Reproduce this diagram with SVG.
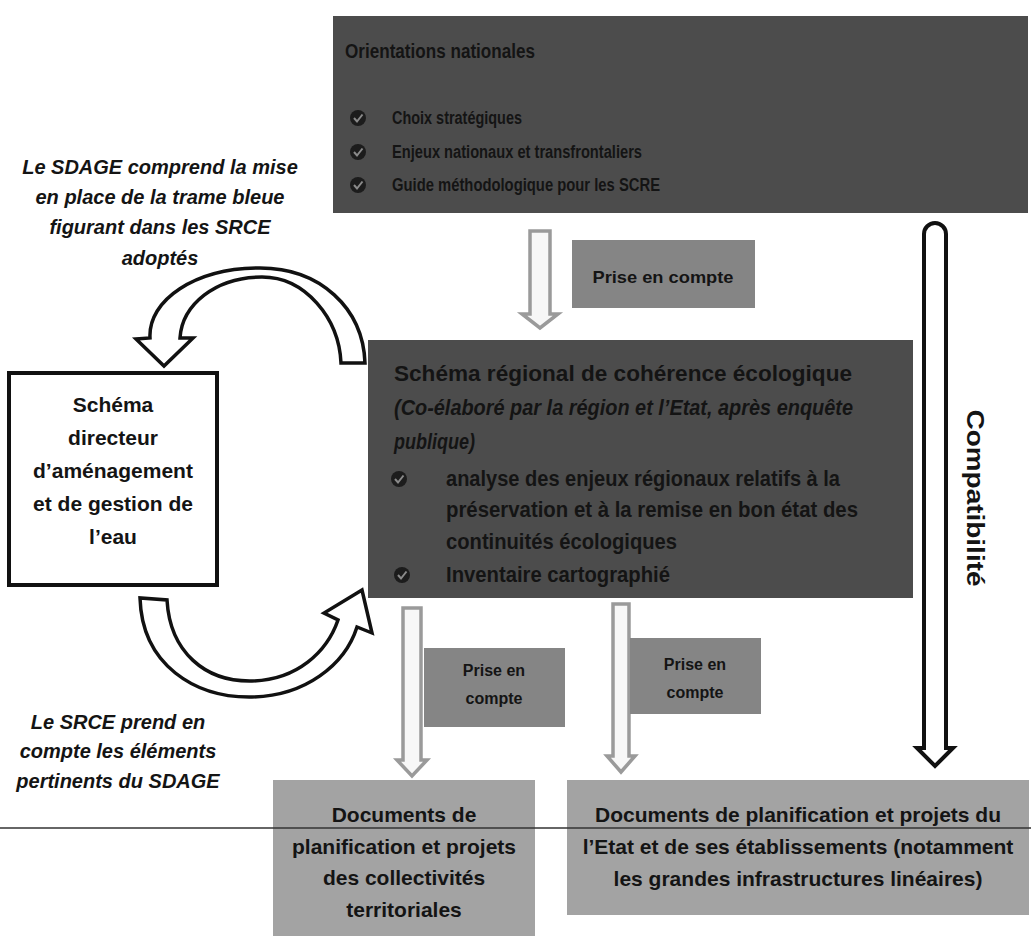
<svg xmlns="http://www.w3.org/2000/svg" width="1031" height="936" viewBox="0 0 1031 936">
<defs>
<style>
.t{font-family:"Liberation Sans",Arial,sans-serif;font-weight:bold;fill:#141414}
.it{font-style:italic}
.dark{fill:#4c4c4c}
.mid{fill:#858585}
.light{fill:#a3a3a3}
.curve{fill:#fff;stroke:#111;stroke-width:3.5;stroke-linejoin:miter}
.grey{fill:#f7f7f7;stroke:#9a9a9a;stroke-width:3.5;stroke-linejoin:miter}
.bk{fill:#fff;stroke:#111;stroke-width:4;stroke-linejoin:miter}
</style>
<g id="bullet">
<circle r="8" fill="#1c1c1c"/>
<path d="M-4 0 L-1 3.5 L4.5 -3.5" fill="none" stroke="#8a8a8a" stroke-width="2"/>
</g>
</defs>
<rect width="1031" height="936" fill="#fff"/>

<g id="orientations">
<rect class="dark" x="333" y="16" width="695" height="197"/>
<text class="t" x="345" y="58" font-size="20" textLength="190" lengthAdjust="spacingAndGlyphs">Orientations nationales</text>
<use href="#bullet" x="358" y="118"/>
<use href="#bullet" x="358" y="152"/>
<use href="#bullet" x="358" y="185"/>
<text class="t" x="392" y="124" font-size="18" textLength="130" lengthAdjust="spacingAndGlyphs">Choix stratégiques</text>
<text class="t" x="392" y="158" font-size="18" textLength="250" lengthAdjust="spacingAndGlyphs">Enjeux nationaux et transfrontaliers</text>
<text class="t" x="392" y="191" font-size="18" textLength="268" lengthAdjust="spacingAndGlyphs">Guide méthodologique pour les SCRE</text>
</g>

<g id="srce">
<rect class="dark" x="368" y="340" width="545" height="258"/>
<text class="t" x="394" y="381" font-size="22" textLength="458" lengthAdjust="spacingAndGlyphs">Schéma régional de cohérence écologique</text>
<text class="t it" x="394" y="415" font-size="22" textLength="459" lengthAdjust="spacingAndGlyphs">(Co-élaboré par la région et l’Etat, après enquête</text>
<text class="t it" x="394" y="449" font-size="22" textLength="81" lengthAdjust="spacingAndGlyphs">publique)</text>
<use href="#bullet" x="399" y="479"/>
<text class="t" x="446" y="486" font-size="22" textLength="394" lengthAdjust="spacingAndGlyphs">analyse des enjeux régionaux relatifs à la</text>
<text class="t" x="446" y="517" font-size="22" textLength="412" lengthAdjust="spacingAndGlyphs">préservation et à la remise en bon état des</text>
<text class="t" x="446" y="549" font-size="22" textLength="231" lengthAdjust="spacingAndGlyphs">continuités écologiques</text>
<use href="#bullet" x="402" y="575"/>
<text class="t" x="446" y="582" font-size="22" textLength="224" lengthAdjust="spacingAndGlyphs">Inventaire cartographié</text>
</g>

<g id="sdage">
<rect x="9" y="373" width="208" height="212" fill="#fff" stroke="#111" stroke-width="4"/>
<text class="t" x="113" y="412" font-size="21" text-anchor="middle">Schéma</text>
<text class="t" x="113" y="445" font-size="21" text-anchor="middle">directeur</text>
<text class="t" x="113" y="478" font-size="21" text-anchor="middle">d’aménagement</text>
<text class="t" x="113" y="511" font-size="21" text-anchor="middle">et de gestion de</text>
<text class="t" x="113" y="544" font-size="21" text-anchor="middle">l’eau</text>
</g>

<g id="collectivites">
<rect class="light" x="273" y="780" width="262" height="156"/>
<text class="t" x="404" y="822" font-size="21" text-anchor="middle">Documents de</text>
<text class="t" x="404" y="854" font-size="21" text-anchor="middle">planification et projets</text>
<text class="t" x="404" y="885" font-size="21" text-anchor="middle">des collectivités</text>
<text class="t" x="404" y="917" font-size="21" text-anchor="middle">territoriales</text>
</g>

<g id="etat">
<rect class="light" x="567" y="780" width="462" height="135"/>
<text class="t" x="798" y="822" font-size="21" text-anchor="middle">Documents de planification et projets du</text>
<text class="t" x="798" y="854" font-size="21" text-anchor="middle">l’Etat et de ses établissements (notamment</text>
<text class="t" x="798" y="886" font-size="21" text-anchor="middle">les grandes infrastructures linéaires)</text>
</g>

<g id="connectors">
<path class="curve" d="M150 338 C148 300 195 268 260 268 C320 268 363 308 365 363 L341 363 C339 318 305 277 262 277 C215 277 182 305 180 338 L193 338 L164 366 L136 339 Z"/>
<path class="curve" d="M140 598 C142 665 195 698 252 697 C305 696 345 665 357 627 L372 633 L362 590 L324 613 L338 620 C327 652 297 680 252 681 C205 682 170 652 167 600 Z"/>
<path class="grey" d="M530 231 H550 V314 H558 L540 328 L522 314 H530 Z"/>
<path class="grey" d="M403 608 H421 V760 H427 L412 776 L397 760 H403 Z"/>
<path class="grey" d="M613 604 H629 V756 H635 L621 772 L607 756 H613 Z"/>
<path class="bk" d="M924 234 A11 11 0 0 1 946 234 V748 H953 L935 766 L917 748 H924 Z"/>
</g>

<g id="label-prise1">
<rect class="mid" x="572" y="240" width="183" height="68"/>
<text class="t" x="663" y="283" font-size="17" text-anchor="middle" textLength="141" lengthAdjust="spacingAndGlyphs">Prise en compte</text>
</g>
<g id="label-prise2">
<rect class="mid" x="424" y="648" width="141" height="79"/>
<text class="t" x="494" y="676" font-size="16" text-anchor="middle">Prise en</text>
<text class="t" x="494" y="704" font-size="16" text-anchor="middle">compte</text>
</g>
<g id="label-prise3">
<rect class="mid" x="630" y="638" width="131" height="76"/>
<text class="t" x="695" y="670" font-size="16" text-anchor="middle">Prise en</text>
<text class="t" x="695" y="698" font-size="16" text-anchor="middle">compte</text>
</g>
<g id="label-compat">
<text class="t" transform="translate(967 498) rotate(90)" font-size="24" text-anchor="middle" textLength="177" lengthAdjust="spacingAndGlyphs">Compatibilité</text>
</g>

<g id="notes">
<text class="t it" x="160" y="174" font-size="20" text-anchor="middle">Le SDAGE comprend la mise</text>
<text class="t it" x="160" y="204" font-size="20" text-anchor="middle">en place de la trame bleue</text>
<text class="t it" x="160" y="234" font-size="20" text-anchor="middle">figurant dans les SRCE</text>
<text class="t it" x="160" y="265" font-size="20" text-anchor="middle">adoptés</text>
<text class="t it" x="118" y="729" font-size="20" text-anchor="middle">Le SRCE prend en</text>
<text class="t it" x="118" y="758" font-size="20" text-anchor="middle">compte les éléments</text>
<text class="t it" x="118" y="788" font-size="20" text-anchor="middle">pertinents du SDAGE</text>
</g>

<line x1="0" y1="828" x2="1031" y2="828" stroke="#333" stroke-width="1.5"/>
</svg>
